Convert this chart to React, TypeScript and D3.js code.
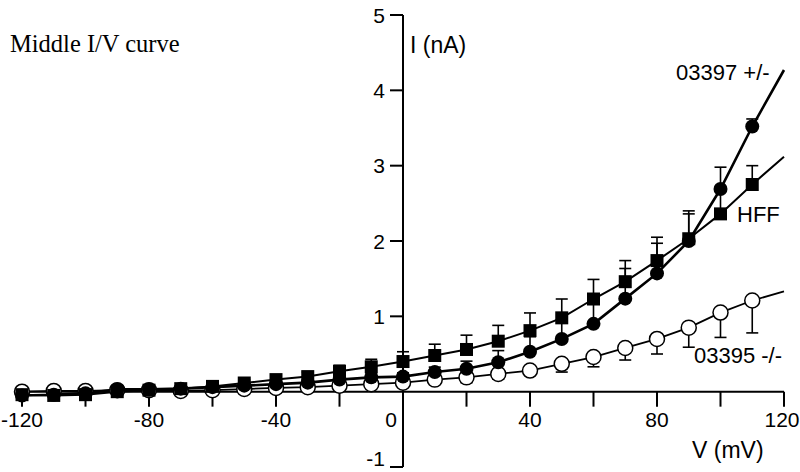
import React from "react";
import * as d3 from "d3";

// voltage steps (mV)
const voltages = [
  -120, -110, -100, -90, -80, -70, -60, -50, -40, -30, -20, -10, 0, 10, 20, 30,
  40, 50, 60, 70, 80, 90, 100, 110,
];

// HFF (filled squares)
const hffMean = [
  -0.04, -0.05, -0.04, 0.0, 0.02, 0.04, 0.07, 0.115, 0.16, 0.2, 0.27, 0.33,
  0.4, 0.48, 0.56, 0.67, 0.81, 0.98, 1.23, 1.46, 1.74, 2.03, 2.36, 2.75,
];
const hffErr = [
  0.02, 0.02, 0.02, 0.02, 0.02, 0.02, 0.03, 0.04, 0.05, 0.06, 0.08, 0.1, 0.13,
  0.15, 0.19, 0.21, 0.235, 0.25, 0.26, 0.28, 0.31, 0.33, 0.35, 0.25,
];

// 03397 +/- (filled circles)
const hetMean = [
  -0.05, -0.04, -0.02, 0.03, 0.03, 0.04, 0.06, 0.08, 0.1, 0.12, 0.16, 0.19,
  0.2, 0.26, 0.305, 0.39, 0.53, 0.7, 0.9, 1.235, 1.57, 2.0, 2.69, 3.52,
];
const hetErr = [
  0.02, 0.02, 0.02, 0.02, 0.02, 0.02, 0.02, 0.03, 0.03, 0.04, 0.04, 0.05,
  0.05, 0.066, 0.1, 0.155, 0.2, 0.25, 0.3, 0.4, 0.4, 0.4, 0.29, 0.1,
];

// 03395 -/- (open circles), error bars drawn downward
const nullMean = [
  0.0, 0.01, 0.01, 0.02, 0.02, 0.01, 0.02, 0.035, 0.05, 0.06, 0.08, 0.1, 0.12,
  0.16, 0.19, 0.235, 0.28, 0.37, 0.46, 0.58, 0.7, 0.85, 1.05, 1.21,
];
const nullErr = [
  0.03, 0.03, 0.03, 0.03, 0.03, 0.03, 0.03, 0.03, 0.03, 0.03, 0.04, 0.04,
  0.05, 0.05, 0.07, 0.07, 0.06, 0.11, 0.13, 0.16, 0.2, 0.26, 0.33, 0.43,
];

// where each fitted line ends, at V = 120 mV
const fitEndV = 120;
const hffFitEnd = 3.12;
const hetFitEnd = 4.27;
const nullFitEnd = 1.33;

const xTicks = [-120, -100, -80, -60, -40, -20, 20, 40, 60, 80, 100, 120];
const xLabels = [-120, -80, -40, 40, 80, 120];
const yTicks = [-1, 1, 2, 3, 4, 5];

const W = 800;
const H = 472;
const sans = "'Liberation Sans', Arial, sans-serif";

const App: React.FC = () => {
  const x = d3.scaleLinear().domain([-120, 120]).range([22, 784]);
  const y = d3.scaleLinear().domain([-1, 5]).range([467, 15]);

  const line = d3
    .line<[number, number]>()
    .x((d) => x(d[0]))
    .y((d) => y(d[1]));

  const pts = (vals: number[], end: number): [number, number][] => [
    ...voltages.map((v, i) => [v, vals[i]] as [number, number]),
    [fitEndV, end],
  ];

  const errBars = (vals: number[], errs: number[], dir: number, key: string) =>
    voltages.map((v, i) => {
      const x0 = x(v);
      const y0 = y(vals[i]);
      const y1 = y(vals[i] + dir * errs[i]);
      return (
        <g key={key + i} stroke="#000" strokeWidth={1.6}>
          <line x1={x0} x2={x0} y1={y0} y2={y1} />
          <line x1={x0 - 6} x2={x0 + 6} y1={y1} y2={y1} />
        </g>
      );
    });

  // keep edge labels inside the picture
  const xLabelPos = (t: number) => Math.min(x(t), W - 18);

  return (
    <svg
      width={W}
      height={H}
      style={{ position: "absolute", left: 0, top: 0, background: "#fff" }}
    >
      {/* title */}
      <text
        x={10}
        y={52}
        fontFamily="'Liberation Serif', 'Times New Roman', serif"
        fontSize={24.5}
      >
        Middle I/V curve
      </text>

      {/* axes */}
      <g stroke="#000" strokeWidth={2}>
        <line x1={x(-120) - 4} x2={x(120)} y1={y(0)} y2={y(0)} />
        <line x1={x(0)} x2={x(0)} y1={y(-1)} y2={y(5)} />
        {xTicks.map((t) => (
          <line key={"xt" + t} x1={x(t)} x2={x(t)} y1={y(0)} y2={y(0) + 15} />
        ))}
        {yTicks.map((t) => (
          <line key={"yt" + t} x1={x(0) - 13} x2={x(0)} y1={y(t)} y2={y(t)} />
        ))}
      </g>
      <g fontFamily={sans} fontSize={21} fill="#000">
        {xLabels.map((t) => (
          <text key={"xl" + t} x={xLabelPos(t)} y={427} textAnchor="middle">
            {t}
          </text>
        ))}
        <text x={x(0) - 12} y={427} textAnchor="middle">
          0
        </text>
        {yTicks.map((t) => (
          <text
            key={"yl" + t}
            x={x(0) - 18}
            y={Math.min(y(t) + 7.5, 466)}
            textAnchor="end"
          >
            {t}
          </text>
        ))}
        <text x={410} y={53} fontSize={23}>
          I (nA)
        </text>
        <text x={692} y={458} fontSize={23}>
          V (mV)
        </text>
        <text x={676} y={80} fontSize={22}>
          03397 +/-
        </text>
        <text x={737} y={222} fontSize={22}>
          HFF
        </text>
        <text x={694} y={363} fontSize={22}>
          03395 -/-
        </text>
      </g>

      {/* lines */}
      <g fill="none" stroke="#000">
        <path d={line(pts(nullMean, nullFitEnd)) || ""} strokeWidth={1.8} />
        <path d={line(pts(hffMean, hffFitEnd)) || ""} strokeWidth={2} />
        <path d={line(pts(hetMean, hetFitEnd)) || ""} strokeWidth={2.6} />
      </g>

      {/* error bars */}
      {errBars(nullMean, nullErr, -1, "ne")}
      {errBars(hetMean, hetErr, 1, "he")}
      {errBars(hffMean, hffErr, 1, "fe")}

      {/* markers */}
      {voltages.map((v, i) => (
        <circle
          key={"n" + i}
          cx={x(v)}
          cy={y(nullMean[i])}
          r={7.5}
          fill="#fff"
          stroke="#000"
          strokeWidth={1.5}
        />
      ))}
      {voltages.map((v, i) => (
        <circle key={"h" + i} cx={x(v)} cy={y(hetMean[i])} r={7} fill="#000" />
      ))}
      {voltages.map((v, i) => (
        <rect
          key={"f" + i}
          x={x(v) - 6.5}
          y={y(hffMean[i]) - 6.5}
          width={13}
          height={13}
          fill="#000"
        />
      ))}
    </svg>
  );
};

export default App;
